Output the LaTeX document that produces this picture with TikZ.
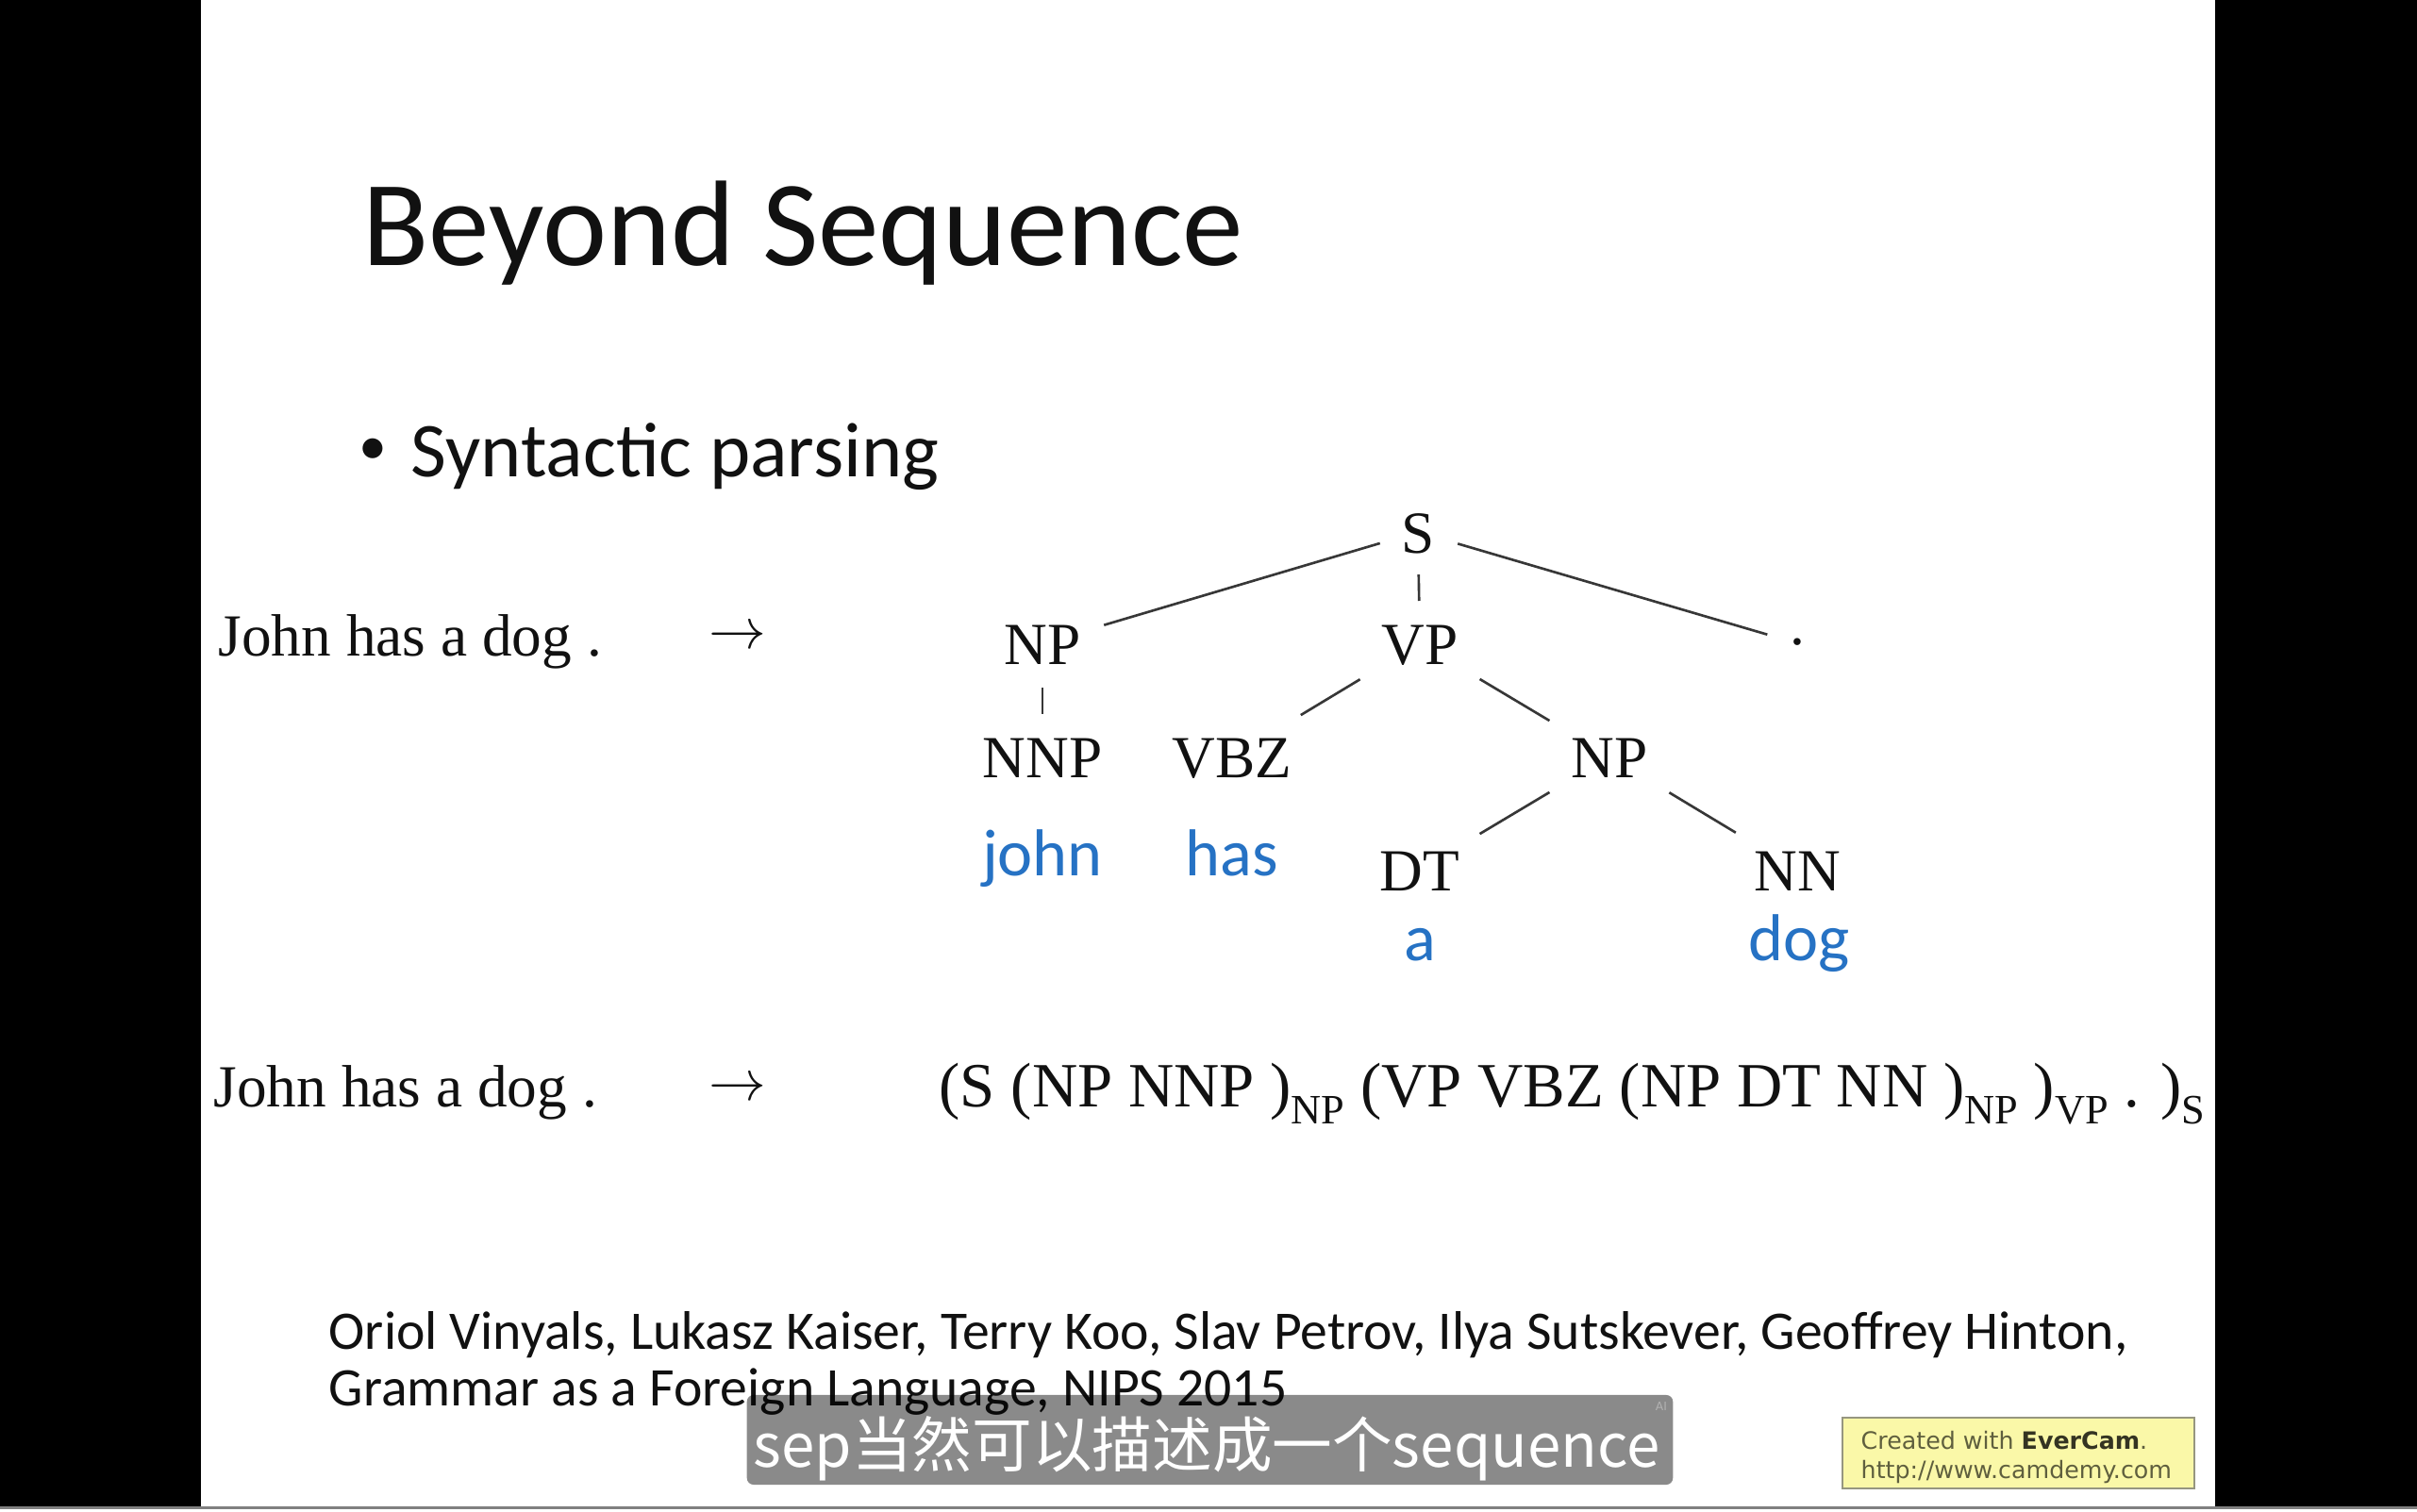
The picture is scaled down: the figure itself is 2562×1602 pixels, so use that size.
\documentclass[tikz,border=0pt]{standalone}
\usepackage{fontspec}
\setmainfont{Liberation Serif}
\newfontfamily\calfont{Carlito}
\newfontfamily\cjkfont{Noto Sans CJK SC}
\newfontfamily\dvfont{DejaVu Sans}
\definecolor{wordblue}{RGB}{38,114,196}
\definecolor{linegray}{RGB}{55,55,55}
\definecolor{inkblack}{RGB}{17,17,17}
\definecolor{evyellow}{RGB}{250,248,168}
\definecolor{evborder}{RGB}{150,150,128}
\definecolor{evtext}{RGB}{95,95,62}
\definecolor{evbold}{RGB}{52,52,34}
\newcommand\sbs[1]{\raisebox{-0.27em}{\fontsize{12.6pt}{14pt}\selectfont #1}}
\begin{document}
\begin{tikzpicture}[x=0.01cm,y=-0.01cm,
  lab/.style={font=\fontsize{18pt}{20pt}\selectfont, text=inkblack, inner sep=0pt, text height=0.44cm, text depth=0pt},
  word/.style={font=\calfont\fontsize{20pt}{24pt}\selectfont, text=wordblue, inner sep=0pt, anchor=base},
  branch/.style={draw=linegray, line width=0.75pt},
  serifline/.style={font=\fontsize{18pt}{20pt}\selectfont, text=inkblack, inner sep=0pt, anchor=base west},
  arrowsym/.style={font=\fontsize{18pt}{20pt}\selectfont, text=inkblack, inner sep=0pt},
  citeline/.style={font=\calfont\fontsize{16.4pt}{19pt}\selectfont, text=inkblack, inner sep=0pt, anchor=base west},
  evline/.style={font=\dvfont\fontsize{7.2pt}{9pt}\selectfont, text=evtext, inner sep=0pt, anchor=base west}]
\useasboundingbox (0,0) rectangle (2562,1602);
\fill[white] (0,0) rectangle (2562,1602);
\fill[black] (0,0) rectangle (213,1597);
\fill[black] (2348,0) rectangle (2562,1597);
\draw[gray, line width=0.6pt] (0,1598.5) -- (2562,1598.5);

% title and bullet
\node[anchor=base west, font=\calfont\fontsize{36.7pt}{44pt}\selectfont, text=inkblack, inner sep=0pt] (title) at (384,281) {Beyond Sequence};
\node[font=\calfont\fontsize{17pt}{20pt}\selectfont, text=inkblack, inner sep=0pt] (bullet) at (395,479) {•};
\node[anchor=base west, font=\calfont\fontsize{23.4pt}{28pt}\selectfont, text=inkblack, inner sep=0pt] (topic) at (435,505) {Syntactic parsing};

% row 1
\node[serifline] (src1) at (231,695) {John has a dog .};
\node[arrowsym] (arr1) at (782,676) {$\rightarrow$};

% tree
\node[lab] (S) at (1503,564) {S};
\node[lab] (NP) at (1105,682) {NP};
\node[lab] (VP) at (1505,682) {VP};
\node[lab] (dot) at (1905,682) {\raisebox{0.33em}{.}};
\node[lab] (NNP) at (1105,802) {NNP};
\node[lab] (VBZ) at (1306,802) {VBZ};
\node[lab] (NPb) at (1706,802) {NP};
\node[lab] (DT) at (1505,922) {DT};
\node[lab] (NN) at (1905,922) {NN};
\node[word] (john) at (1105,928) {john};
\node[word] (has) at (1306,928) {has};
\node[word] (wa) at (1505,1018) {a};
\node[word] (dog) at (1907,1018) {dog};

\draw[branch, shorten <=0.42cm, shorten >=0.68cm] (S.center) -- (NP.center);
\draw[branch, shorten <=0.45cm, shorten >=0.45cm] (S.center) -- (VP.center);
\draw[branch, shorten <=0.44cm, shorten >=0.33cm] (S.center) -- (dot.center);
\draw[branch, shorten <=0.47cm, shorten >=0.45cm] (NP.center) -- (NNP.center);
\draw[branch, shorten <=0.74cm, shorten >=0.85cm] (VP.center) -- (VBZ.center);
\draw[branch, shorten <=0.74cm, shorten >=0.74cm] (VP.center) -- (NPb.center);
\draw[branch, shorten <=0.74cm, shorten >=0.74cm] (NPb.center) -- (DT.center);
\draw[branch, shorten <=0.74cm, shorten >=0.76cm] (NPb.center) -- (NN.center);

% row 2
\node[serifline] (src2) at (226,1173) {John has a dog .};
\node[arrowsym] (arr2) at (782,1155) {$\rightarrow$};
\node[anchor=base west, font=\fontsize{19pt}{21pt}\selectfont, text=inkblack, inner sep=0pt] (brack) at (995,1173)
  {(S (NP NNP )\sbs{NP} (VP VBZ (NP DT NN )\sbs{NP} )\sbs{VP} . )\sbs{S}};

% citation
\node[citeline] (cite1) at (348,1430) {Oriol Vinyals, Lukasz Kaiser, Terry Koo, Slav Petrov, Ilya Sutskever, Geoffrey Hinton,};
\node[citeline] (cite2) at (348,1490) {Grammar as a Foreign Language, NIPS 2015};

% subtitle overlay
\node[fill=black, fill opacity=0.46, rounded corners=2pt, inner sep=0pt, minimum width=9.81cm, minimum height=0.95cm] (subbox) at (1282.5,1526.5) {};
\node[anchor=base, font=\cjkfont\fontsize{18.1pt}{22pt}\selectfont, text=white, inner sep=0pt] (subtext) at (1279,1555) {sep当然可以描述成一个sequence};
\node[font=\dvfont\fontsize{3.5pt}{4pt}\selectfont, text=black!30, inner sep=0pt] (aimark) at (1761,1491) {AI};

% EverCam badge
\node[fill=evyellow, draw=evborder, line width=0.6pt, inner sep=0pt, minimum width=3.73cm, minimum height=0.75cm] (ever) at (2139.5,1540.5) {};
\node[evline] (ev1) at (1972,1536) {Created with {\bfseries\color{evbold}EverCam}.};
\node[evline] (ev2) at (1972,1567) {http://www.camdemy.com};
\end{tikzpicture}
\end{document}
